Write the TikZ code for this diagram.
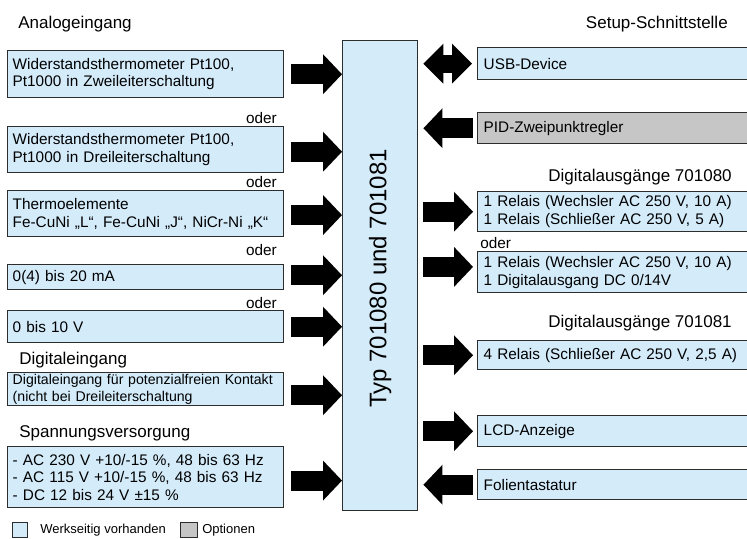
\documentclass[tikz,border=0pt]{standalone}
\usepackage{fontspec}
\setmainfont{Liberation Sans}
\usepackage{tikz}
\usetikzlibrary{arrows.meta}

\definecolor{boxblue}{RGB}{212,235,250}
\definecolor{boxgray}{RGB}{198,198,198}
\definecolor{edgegray}{RGB}{45,45,45}

\tikzset{
  inbox/.style={draw=edgegray, line width=1.1pt, fill=boxblue, anchor=north west,
    align=left, text width=199.5pt, inner xsep=3.75pt, inner ysep=0pt,
    font=\fontsize{11.5}{13.2}\selectfont},
  outbox/.style={inbox, text width=195pt, inner xsep=4.5pt},
  headtext/.style={inner sep=0pt, font=\fontsize{12.75}{15}\selectfont},
  odertext/.style={inner sep=0pt, font=\fontsize{11.5}{13.2}\selectfont},
  legtext/.style={inner sep=0pt, anchor=west, font=\fontsize{9.75}{12}\selectfont},
  legbox/.style={draw=edgegray, line width=0.8pt, anchor=north west, minimum width=11.25pt,
    minimum height=11.25pt, inner sep=0pt},
  inarrow/.style={line width=15pt, -{Triangle[length=14.25pt, width=30pt, line width=0pt]}},
  ioarrow/.style={line width=13.5pt, {Triangle[length=15pt, width=30pt, line width=0pt]}-{Triangle[length=15pt, width=30pt, line width=0pt]}}
}

\begin{document}
\begin{tikzpicture}[x=0.75pt, y=-0.75pt]
    \useasboundingbox (0,0) rectangle (747,539);

    \node[draw=edgegray, line width=1.1pt, fill=boxblue, anchor=north west, minimum width=56.25pt,
      minimum height=352.5pt, inner sep=0pt] at (342, 40) (typ) {};
    \node[rotate=90, inner sep=0pt, font=\fontsize{18}{20}\selectfont] at ([yshift=-2pt]typ.center) (typlabel) {Typ 701080 und 701081};

    \node[headtext, anchor=west] at (18, 24) (hana) {Analogeingang};
    \node[inbox, minimum height=35.25pt] at (7, 50) (ana1) {Widerstandsthermometer Pt100,\\Pt1000 in Zweileiterschaltung};
    \node[odertext, anchor=east] at (277, 118) (oder1) {oder};
    \node[inbox, minimum height=34.5pt] at (7, 126) (ana2) {Widerstandsthermometer Pt100,\\Pt1000 in Dreileiterschaltung};
    \node[odertext, anchor=east] at (277, 182) (oder2) {oder};
    \node[inbox, minimum height=34.5pt] at (7, 190) (ana3) {Thermoelemente\\Fe-CuNi „L“, Fe-CuNi „J“, NiCr-Ni „K“};
    \node[odertext, anchor=east] at (277, 250) (oder3) {oder};
    \node[inbox, minimum height=18.75pt] at (7, 264) (ana4) {0(4) bis 20 mA};
    \node[odertext, anchor=east] at (277, 303) (oder4) {oder};
    \node[inbox, minimum height=24pt] at (7, 310) (ana5) {0 bis 10 V};
    \node[headtext, anchor=west] at (19, 360) (hdig) {Digitaleingang};
    \node[inbox, minimum height=24.75pt, font=\fontsize{10.6}{12.6}\selectfont] at (7, 372) (dig) {Digitaleingang für potenzialfreien Kontakt\\(nicht bei Dreileiterschaltung};
    \node[headtext, anchor=west] at (19, 433) (hpwr) {Spannungsversorgung};
    \node[inbox, minimum height=45.75pt] at (7, 446) (pwr) {- AC 230 V +10/-15 \%, 48 bis 63 Hz\\- AC 115 V +10/-15 \%, 48 bis 63 Hz\\- DC 12 bis 24 V ±15 \%};

    \node[headtext, anchor=east] at (728, 24) (hset) {Setup-Schnittstelle};
    \node[outbox, minimum height=24pt] at (477, 47) (usb) {USB-Device};
    \node[outbox, fill=boxgray, minimum height=23.25pt] at (477, 112) (pid) {PID-Zweipunktregler};
    \node[headtext, anchor=east] at (732, 177) (hdo1) {Digitalausgänge 701080};
    \node[outbox, minimum height=30pt] at (477, 191) (do1) {1 Relais (Wechsler AC 250 V, 10 A)\\1 Relais (Schließer AC 250 V, 5 A)};
    \node[odertext, anchor=west] at (480, 243) (oder5) {oder};
    \node[outbox, minimum height=30.75pt] at (477, 251) (do2) {1 Relais (Wechsler AC 250 V, 10 A)\\1 Digitalausgang DC 0/14V};
    \node[headtext, anchor=east] at (732, 323) (hdo2) {Digitalausgänge 701081};
    \node[outbox, minimum height=21.75pt] at (477, 340) (do3) {4 Relais (Schließer AC 250 V, 2,5 A)};
    \node[outbox, minimum height=23.25pt] at (477, 415) (lcd) {LCD-Anzeige};
    \node[outbox, minimum height=22.5pt] at (477, 469) (fol) {Folientastatur};

    \draw[inarrow] ([xshift=5.25pt]ana1.east) -- (typ.west |- ana1.east);
    \draw[inarrow] ([xshift=5.25pt, yshift=-1.5pt]ana2.east) -- ([yshift=-1.5pt]typ.west |- ana2.east);
    \draw[inarrow] ([xshift=5.25pt, yshift=-1pt]ana3.east) -- ([yshift=-1pt]typ.west |- ana3.east);
    \draw[inarrow] ([xshift=5.25pt, yshift=1.5pt]ana4.east) -- ([yshift=1.5pt]typ.west |- ana4.east);
    \draw[inarrow] ([xshift=5.25pt]ana5.east) -- (typ.west |- ana5.east);
    \draw[inarrow] ([xshift=5.25pt, yshift=-4.5pt]dig.east) -- ([yshift=-4.5pt]typ.west |- dig.east);
    \draw[inarrow] ([xshift=5.25pt, yshift=-2.5pt]pwr.east) -- ([yshift=-2.5pt]typ.west |- pwr.east);

    \draw[ioarrow] ([xshift=3.75pt]typ.east |- usb.west) -- ([xshift=-3.75pt]usb.west);
    \draw[inarrow] ([xshift=-3pt]pid.west) -- ([xshift=3.75pt]typ.east |- pid.west);
    \draw[inarrow] ([xshift=3.75pt]typ.east |- do1.west) -- ([xshift=-3pt]do1.west);
    \draw[inarrow] ([xshift=3.75pt, yshift=4pt]typ.east |- do2.west) -- ([xshift=-3pt, yshift=4pt]do2.west);
    \draw[inarrow] ([xshift=3.75pt]typ.east |- do3.west) -- ([xshift=-3pt]do3.west);
    \draw[inarrow] ([xshift=3.75pt]typ.east |- lcd.west) -- ([xshift=-3pt]lcd.west);
    \draw[inarrow] ([xshift=-3pt]fol.west) -- ([xshift=3.75pt]typ.east |- fol.west);

    \node[legbox, fill=boxblue] at (12, 522) (legblue) {};
    \node[legtext] at (40, 530) (legbluetext) {Werkseitig vorhanden};
    \node[legbox, fill=boxgray, minimum width=12.75pt] at (180, 522) (leggray) {};
    \node[legtext] at (202, 530) (leggraytext) {Optionen};
\end{tikzpicture}
\end{document}
